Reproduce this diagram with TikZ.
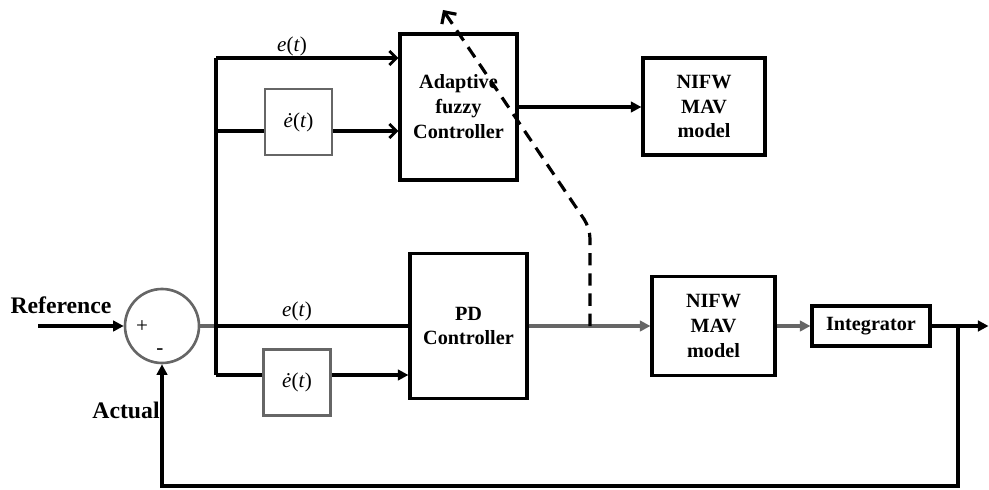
\documentclass[tikz,border=0pt]{standalone}
\usepackage{fontspec}
\setmainfont{Liberation Serif}
\usepackage{tikz}
\usetikzlibrary{arrows.meta, positioning, calc}

\begin{document}
\begin{tikzpicture}[
    % Define styles for the nodes
    block_node/.style={rectangle, draw=black, line width=1.8pt, align=center, inner sep=0pt,
        font=\fontsize{11.5}{14.2}\selectfont\bfseries},
    diff_node/.style={rectangle, draw=black!60, line width=1.6pt, minimum width=1.34cm, minimum height=1.32cm,
        inner sep=0pt, font=\fontsize{12}{14}\selectfont},
    sum_node/.style={circle, draw=black!60, line width=1.5pt, minimum size=1.48cm, inner sep=0pt},
    label_node/.style={font=\fontsize{13.5}{15}\selectfont\bfseries},
    sig_node/.style={font=\fontsize{12}{14}\selectfont},
    % Styles for arrows
    wire/.style={line width=1.8pt},
    arrow/.style={-{Triangle[length=6pt, width=6pt]}, line width=1.8pt},
    barb/.style={-{Straight Barb[length=4pt, width=8pt, line width=1.6pt]}, line width=1.8pt},
    gray_arrow/.style={-{Triangle[length=6pt, width=6pt]}, line width=1.8pt, black!60},
    adapt_line/.style={-{Straight Barb[length=5pt, width=10pt, line width=1.8pt]}, line width=1.8pt,
        dash pattern=on 7pt off 4.5pt, rounded corners=6pt}
]
    \useasboundingbox (0,0) rectangle (19.78,9.78);

    % =========================================================================
    % SUMMING JUNCTION
    % =========================================================================
    \node (sum) [sum_node] at (3.24,3.26) {};
    \node (plus) [sig_node] at (2.84,3.24) {+};
    \node (minus) [sig_node] at (3.2,2.74) {-};

    \node (ref_lbl) [label_node] at (1.22,3.68) {Reference};
    \coordinate (ref_in) at (0.76,3.26);
    \draw [arrow] (ref_in) -- (sum.west);

    \node (act_lbl) [label_node] at (2.52,1.58) {Actual};

    % =========================================================================
    % CONTROLLERS
    % =========================================================================
    \node (pd) [block_node, minimum width=2.34cm, minimum height=2.9cm] at (9.37,3.26) {PD\\Controller};
    \node (ada) [block_node, minimum width=2.34cm, minimum height=2.92cm] at (9.17,7.64) {Adaptive\\fuzzy\\Controller};

    \node (dot_top) [diff_node] at (5.97,7.34) {\textit{\.e}(\textit{t})};
    \node (dot_bot) [diff_node] at (5.94,2.13) {\textit{\.e}(\textit{t})};

    \node (e_top) [sig_node] at (5.84,8.86) {\textit{e}(\textit{t})};
    \node (e_bot) [sig_node] at (5.94,3.55) {\textit{e}(\textit{t})};

    % =========================================================================
    % PLANT
    % =========================================================================
    \node (nifw_top) [block_node, minimum width=2.44cm, minimum height=1.94cm] at (14.08,7.65) {NIFW\\MAV\\model};
    \node (nifw_bot) [block_node, minimum width=2.46cm, minimum height=1.98cm] at (14.27,3.26) {NIFW\\MAV\\model};
    \node (integ) [block_node, minimum width=2.36cm, minimum height=0.8cm] at (17.42,3.26) {Integrator};

    % =========================================================================
    % SIGNAL BRANCHES
    % =========================================================================
    \coordinate (split) at (4.32,3.26);
    \coordinate (top_e) at (4.32,8.62);
    \coordinate (top_d) at (4.32,7.16);
    \coordinate (bot_d) at (4.32,2.28);

    \draw [wire, black!60] (sum.east) -- (split);
    \draw [wire] (split) -- (pd.west);
    \draw [wire] (top_e) -- (bot_d);

    \draw [barb] (top_e) -- (top_e -| ada.west);
    \draw [wire] (top_d) -- (top_d -| dot_top.west);
    \draw [barb] (top_d -| dot_top.east) -- (top_d -| ada.west);

    \draw [wire] (bot_d) -- (bot_d -| dot_bot.west);
    \draw [arrow] (bot_d -| dot_bot.east) -- (bot_d -| pd.west);

    \draw [arrow] (ada.east) -- (ada.east -| nifw_top.west);

    % Main forward path
    \draw [gray_arrow] (pd.east) -- (nifw_bot.west);
    \draw [gray_arrow] (nifw_bot.east) -- (integ.west);

    \coordinate (out) at (19.77,3.26);
    \draw [arrow] (integ.east) -- (out);

    % Feedback loop
    \coordinate (fb) at (19.16,3.26);
    \coordinate (fb_low) at (19.16,0.06);
    \draw [arrow] (fb) -- (fb_low) -| (sum.south);

    % Adaptation path (dashed)
    \coordinate (tap) at (11.8,3.26);
    \coordinate (bend) at (11.8,5.22);
    \coordinate (adapt_tip) at (8.86,9.58);
    \draw [adapt_line] (tap) -- (bend) -- (adapt_tip);

\end{tikzpicture}
\end{document}
